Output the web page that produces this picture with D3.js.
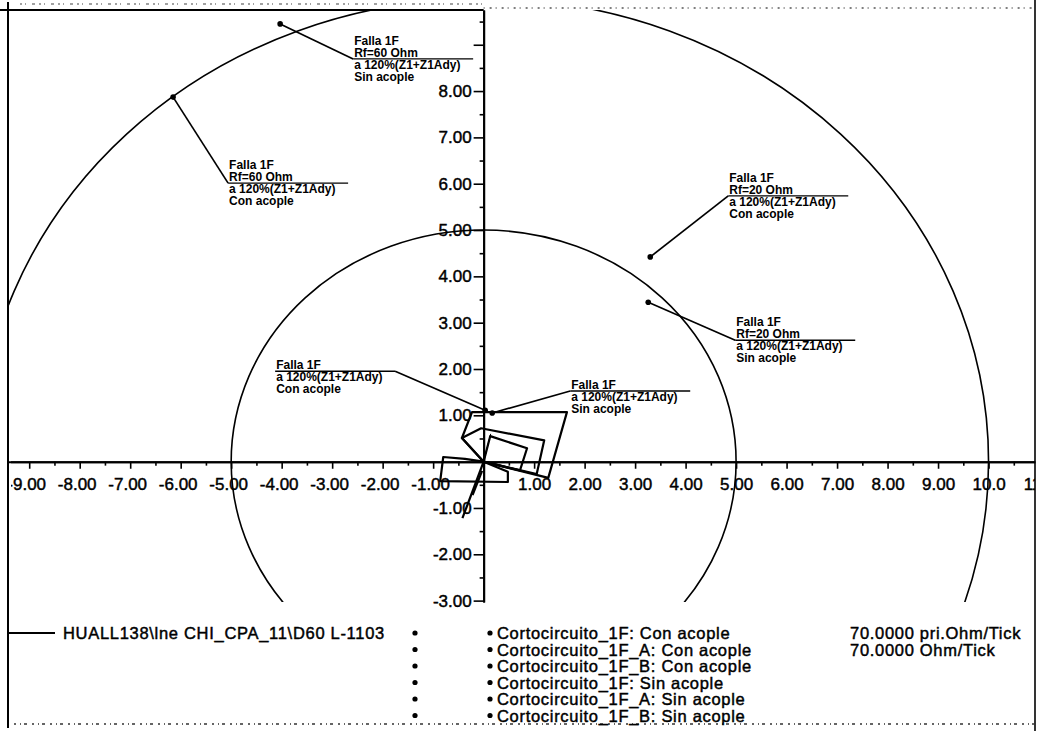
<!DOCTYPE html>
<html>
<head>
<meta charset="utf-8">
<script src="https://cdn.jsdelivr.net/npm/d3@7"></script>
<style>
  html, body { margin: 0; padding: 0; background: #fff; }
  svg { display: block; }
  text { font-family: "Liberation Sans", Arial, sans-serif; fill: #000; }
  .heavy { stroke: #000; stroke-width: 0.45px; paint-order: stroke; }
</style>
</head>
<body>
<svg id="chart" width="1041" height="731"></svg>
<script>
// R-X impedance plane of the D60 relay: mho circles, quadrilateral zones and fault points

// mho characteristic radii (ohm)
const circleRadii = [5, 10];

// axis ticks
const xTickValues = [-9, -8, -7, -6, -5, -4, -3, -2, -1, 1, 2, 3, 4, 5, 6, 7, 8, 9, 10, 11];
const yTickValues = [-3, -2, -1, 1, 2, 3, 4, 5, 6, 7, 8];
const yUnlabelledTicks = [9];

// quadrilateral zone outlines, [R, X] vertices
const zone1 = [[0, 0], [0.13, 0.55], [0.86, 0.29], [0.72, -0.19]];
const zone2 = [[0, 0], [-0.43, 0.51], [-0.05, 0.72], [1.2, 0.46], [1.05, -0.27]];
const zone3 = [[0, 0], [-0.43, 0.51], [-0.23, 1.07], [1.65, 1.07], [1.28, -0.35]];
const reverseZone = [[0, 0], [-0.37, 0.06], [-0.8, 0.1], [-0.86, -0.42], [0.48, -0.44], [0.48, -0.22]];
const blinderA = [[0, 0], [-0.42, -1.22]];
const blinderB = [[-0.03, -0.2], [-0.22, -0.72]];
const lineImpedance = [[0, 0], [0.14, 0.6]];

// single-phase fault impedances seen by the relay
const faultR = [-4.03, -6.15, 3.30, 3.26, 0.03, 0.17];
const faultX = [9.45, 7.87, 4.42, 3.44, 1.11, 1.05];
const faultLabels = [
  ["Falla 1F", "Rf=60 Ohm", "a 120%(Z1+Z1Ady)", "Sin acople"],
  ["Falla 1F", "Rf=60 Ohm", "a 120%(Z1+Z1Ady)", "Con acople"],
  ["Falla 1F", "Rf=20 Ohm", "a 120%(Z1+Z1Ady)", "Con acople"],
  ["Falla 1F", "Rf=20 Ohm", "a 120%(Z1+Z1Ady)", "Sin acople"],
  ["Falla 1F", "a 120%(Z1+Z1Ady)", "Con acople"],
  ["Falla 1F", "a 120%(Z1+Z1Ady)", "Sin acople"]
];

// legend
const legendRelay = "HUALL138\\lne CHI_CPA_11\\D60 L-1103";
const legendCases = [
  "Cortocircuito_1F: Con acople",
  "Cortocircuito_1F_A: Con acople",
  "Cortocircuito_1F_B: Con acople",
  "Cortocircuito_1F: Sin acople",
  "Cortocircuito_1F_A: Sin acople",
  "Cortocircuito_1F_B: Sin acople"
];
const scaleNotes = ["70.0000 pri.Ohm/Tick", "70.0000 Ohm/Tick"];

// ---------- layout ----------
const W = 1041, H = 731;
const plot = { left: 8, right: 1035, top: 10, bottom: 602 };
// label box placement relative to each fault point (pixels)
const noteLayout = [
  { dx: 73, dy: 35, side: "left", rule: 1 },
  { dx: 55, dy: 86, side: "left", rule: 1 },
  { dx: 78, dy: -61, side: "left", rule: 1 },
  { dx: 87, dy: 38, side: "left", rule: 1 },
  { dx: -90, dy: -39, side: "right", rule: 0 },
  { dx: 78, dy: -22, side: "left", rule: 0 }
];
const ruleLen = 120;

const svg = d3.select("#chart");
svg.append("rect").attr("width", W).attr("height", H).attr("fill", "#fff");

const x = d3.scaleLinear().domain([-9.42, 10.92]).range([plot.left, plot.right]);
const y = d3.scaleLinear().domain([-3.03, 9.75]).range([plot.bottom, plot.top]);

const defs = svg.append("defs");
defs.append("clipPath").attr("id", "plotClip").append("rect")
  .attr("x", plot.left).attr("y", plot.top)
  .attr("width", plot.right - plot.left).attr("height", plot.bottom - plot.top);
defs.append("clipPath").attr("id", "xLabelClip").append("rect")
  .attr("x", plot.left + 3).attr("y", -20)
  .attr("width", plot.right - plot.left - 3).attr("height", 60);

const fmt = v => (v < 0 ? "-" : "") + d3.format(".3r")(Math.abs(v));

// ---------- frame ----------
const frame = svg.append("g").attr("stroke", "#000").attr("fill", "none");
frame.append("line").attr("x1", plot.left).attr("x2", plot.left).attr("y1", 2).attr("y2", 728).attr("stroke-width", 2);
frame.append("line").attr("x1", plot.right).attr("x2", plot.right).attr("y1", 0).attr("y2", 731).attr("stroke-width", 1.6);
frame.append("line").attr("x1", 0).attr("x2", x(0)).attr("y1", plot.top).attr("y2", plot.top).attr("stroke-width", 1.8);
frame.append("line").attr("x1", x(0)).attr("x2", plot.right).attr("y1", plot.top - 2).attr("y2", plot.top - 2)
  .attr("stroke-width", 1.2).attr("stroke-dasharray", "1 5 2 4");
frame.append("line").attr("x1", 20).attr("x2", x(0)).attr("y1", 4).attr("y2", 4)
  .attr("stroke-width", 1.2).attr("stroke", "#444").attr("stroke-dasharray", "2 3 1 6 3 4");
frame.append("line").attr("x1", 14).attr("x2", plot.right).attr("y1", 724).attr("y2", 724)
  .attr("stroke-width", 1.3).attr("stroke", "#333").attr("stroke-dasharray", "2 4 1 3 3 5");

// ---------- plot content ----------
const g = svg.append("g").attr("clip-path", "url(#plotClip)");

g.selectAll("ellipse.mho").data(circleRadii).join("ellipse")
  .attr("class", "mho")
  .attr("cx", x(0)).attr("cy", y(0))
  .attr("rx", r => x(r) - x(0)).attr("ry", r => y(0) - y(r))
  .attr("fill", "none").attr("stroke", "#000").attr("stroke-width", 1.6);

// ---------- axes ----------
const axisStyle = sel => {
  sel.select(".domain").attr("stroke", "#000").attr("stroke-width", 2);
  sel.selectAll(".tick line").attr("stroke", "#000").attr("stroke-width", 1.6);
  sel.selectAll(".tick text").attr("class", "heavy").style("font-size", "17px").attr("fill", "#000");
};

const xMinor = x.ticks(40).filter(d => d % 1 !== 0);
svg.append("g").attr("transform", `translate(0,${y(0)})`)
  .call(d3.axisBottom(x).tickValues(xMinor).tickSize(4).tickSizeOuter(0).tickFormat(""))
  .call(axisStyle);
svg.append("g").attr("transform", `translate(0,${y(0)})`)
  .attr("clip-path", "url(#xLabelClip)")
  .call(d3.axisBottom(x).tickValues(xTickValues).tickSize(7).tickSizeOuter(0).tickPadding(9).tickFormat(fmt))
  .call(axisStyle)
  .call(s => s.selectAll(".tick text").attr("dx", d => d < 0 ? -3 : 0));

const yMinor = y.ticks(30).filter(d => d % 1 !== 0);
svg.append("g").attr("transform", `translate(${x(0)},0)`)
  .call(d3.axisLeft(y).tickValues(yMinor).tickSize(4).tickSizeOuter(0).tickFormat(""))
  .call(axisStyle);
svg.append("g").attr("transform", `translate(${x(0)},0)`)
  .call(d3.axisLeft(y).tickValues(yTickValues.concat(yUnlabelledTicks)).tickSize(10).tickSizeOuter(0).tickPadding(2)
    .tickFormat(d => yUnlabelledTicks.includes(d) ? "" : fmt(d)))
  .call(axisStyle);

// ---------- zones ----------
const closed = d3.line().x(d => x(d[0])).y(d => y(d[1])).curve(d3.curveLinearClosed);
const open = d3.line().x(d => x(d[0])).y(d => y(d[1]));
const zones = svg.append("g").attr("fill", "none").attr("stroke", "#000").attr("stroke-linejoin", "round");
[zone1, zone2, zone3, reverseZone].forEach(z => zones.append("path").attr("d", closed(z)).attr("stroke-width", 2.2));
[blinderA, blinderB].forEach(z => zones.append("path").attr("d", open(z)).attr("stroke-width", 2.2));
zones.append("path").attr("d", open(lineImpedance)).attr("stroke-width", 1);

// ---------- fault points and notes ----------
const notes = svg.append("g");
faultR.forEach((r, i) => {
  const px = x(r), py = y(faultX[i]);
  const L = noteLayout[i];
  const ax = px + L.dx, ay = py + L.dy;
  const x0 = L.side === "left" ? ax : ax - ruleLen;
  notes.append("line").attr("x1", px).attr("y1", py).attr("x2", ax).attr("y2", ay)
    .attr("stroke", "#000").attr("stroke-width", 1.7);
  notes.append("line").attr("x1", x0).attr("y1", ay).attr("x2", x0 + ruleLen).attr("y2", ay)
    .attr("stroke", "#000").attr("stroke-width", 1.4);
  notes.append("circle").attr("cx", px).attr("cy", py).attr("r", 2.8).attr("fill", "#000");
  faultLabels[i].forEach((t, j) => {
    notes.append("text").attr("x", x0 + 1).attr("y", ay - 6 + 12 * (j - L.rule))
      .attr("dominant-baseline", "central")
      .style("font-size", "12px").style("font-weight", "bold").text(t);
  });
});

// ---------- legend ----------
const leg = svg.append("g");
const rowY = i => 633 + 16.5 * i;
const legendText = (tx, ty, t) => leg.append("text").attr("class", "heavy")
  .attr("x", tx).attr("y", ty)
  .attr("dominant-baseline", "central")
  .style("font-size", "16.5px").style("letter-spacing", "0.7px").text(t);

leg.append("line").attr("x1", plot.left).attr("x2", 55).attr("y1", rowY(0)).attr("y2", rowY(0))
  .attr("stroke", "#000").attr("stroke-width", 2);
legendText(63, rowY(0), legendRelay);
legendCases.forEach((t, i) => {
  leg.append("circle").attr("cx", 415).attr("cy", rowY(i)).attr("r", 2.6).attr("fill", "#000");
  leg.append("circle").attr("cx", 490).attr("cy", rowY(i)).attr("r", 2.6).attr("fill", "#000");
  legendText(497, rowY(i), t);
});
scaleNotes.forEach((t, i) => legendText(850, rowY(i), t));
</script>
</body>
</html>
